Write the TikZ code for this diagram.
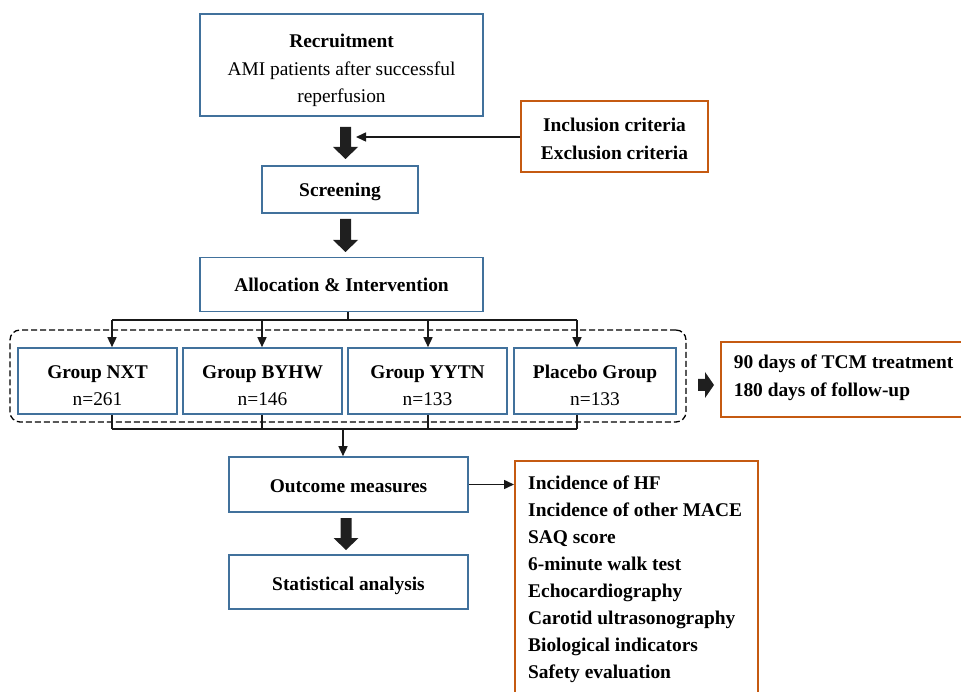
\documentclass[tikz,border=0pt]{standalone}
\usepackage{fontspec}
\setmainfont{Liberation Serif}
\usetikzlibrary{arrows.meta}
\definecolor{bluebd}{HTML}{41719C}
\definecolor{orangebd}{HTML}{C55A11}
\definecolor{arrowfill}{HTML}{1F1F1F}
\newcommand{\vblock}[3]{\fill[blk] (#1-5.5,#2) -- (#1+5.5,#2) -- (#1+5.5,#3-12) -- (#1+12.5,#3-12) -- (#1,#3) -- (#1-12.5,#3-12) -- (#1-5.5,#3-12) -- cycle;}
\begin{document}
\begin{tikzpicture}[x=1pt,y=-1pt,
  every node/.style={font=\fontsize{19.4}{27.5}\selectfont, inner sep=0pt},
  bbox/.style={draw=bluebd, line width=1.6pt, fill=white, align=center, text depth=0pt},
  obox/.style={draw=orangebd, line width=1.6pt, fill=white, text depth=0pt},
  line/.style={draw=black!90, line width=1.5pt},
  conn/.style={line, -{Triangle[length=10pt,width=9pt]}},
  blk/.style={fill=arrowfill}]
\useasboundingbox (0,0) rectangle (961,692);
\clip (0,0) rectangle (961,692);

% main column
\node[bbox, minimum width=283pt, minimum height=102pt, text height=76pt] (recruit) at (341.5,65)
  {\textbf{Recruitment}\\AMI patients after successful\\reperfusion};
\node[obox, align=center, minimum width=187pt, minimum height=71pt, text height=46pt] (incl) at (614.5,136.5)
  {\textbf{Inclusion criteria}\\\textbf{Exclusion criteria}};
\node[bbox, minimum width=156pt, minimum height=47pt, text height=15pt] (screen) at (340,189.5) {\textbf{Screening}};
\node[bbox, minimum width=283pt, minimum height=54pt, text height=15pt] (alloc) at (341.5,284.5) {\textbf{Allocation \& Intervention}};

% dashed frame and groups
\node[draw, dash pattern=on 6pt off 3pt, line width=1.3pt, rounded corners=10pt,
  minimum width=676pt, minimum height=92pt] (frame) at (348,376) {};
\tikzset{gbox/.style={bbox, minimum height=66pt, text height=49pt, font=\fontsize{19.4}{27}\selectfont}}
\node[gbox, minimum width=159pt] (g1) at (97.5,381) {\textbf{Group NXT}\\n=261};
\node[gbox, minimum width=159pt] (g2) at (262.5,381) {\textbf{Group BYHW}\\n=146};
\node[gbox, minimum width=159pt] (g3) at (427.5,381) {\textbf{Group YYTN}\\n=133};
\node[gbox, minimum width=162pt] (g4) at (595,381) {\textbf{Placebo Group}\\n=133};

\node[obox, anchor=west, minimum height=75pt, text height=14pt, text depth=35pt, text width=262pt, inner xsep=13pt, align=flush left,
  font=\fontsize{19.4}{27.7}\selectfont] (tcm) at (720,379.5)
  {\textbf{90 days of TCM treatment}\\\textbf{180 days of follow-up}};

\node[bbox, minimum width=239pt, minimum height=55pt, text height=15pt] (outcome) at (348.5,484.5) {\textbf{Outcome measures}};
\node[bbox, minimum width=239pt, minimum height=54pt, text height=16pt] (stat) at (348.5,582) {\textbf{Statistical analysis}};

\node[obox, anchor=north west, minimum width=243pt, minimum height=260pt] (list) at (514,460) {};
\node[anchor=north west, align=left, font=\bfseries\fontsize{19.4}{27}\selectfont] (listtxt) at (528,475.5)
  {Incidence of HF\\Incidence of other MACE\\SAQ score\\6-minute walk test\\Echocardiography\\Carotid ultrasonography\\Biological indicators\\Safety evaluation};

% block arrows
\vblock{345.5}{127}{159}
\vblock{345.5}{219}{252}
\vblock{346}{518}{550}
\fill[blk] (698,379) -- (705,379) -- (705,372) -- (714,385) -- (705,398) -- (705,391) -- (698,391) -- cycle;

% inclusion connector
\coordinate (inclend) at (356,137);
\draw[conn] (incl.west |- inclend) -- (inclend);

% allocation to groups
\coordinate (s0) at (348,320);
\coordinate (a1) at (112,320);
\coordinate (a2) at (262,320);
\coordinate (a3) at (428,320);
\coordinate (a4) at (577,320);
\draw[line] (alloc.south -| s0) -- (s0);
\draw[line] (a1) -- (a4);
\draw[conn] (a1) -- (a1 |- g1.north);
\draw[conn] (a2) -- (a2 |- g2.north);
\draw[conn] (a3) -- (a3 |- g3.north);
\draw[conn] (a4) -- (a4 |- g4.north);

% groups to outcome
\coordinate (b1) at (112,429);
\coordinate (b2) at (262,429);
\coordinate (b3) at (428,429);
\coordinate (b4) at (577,429);
\coordinate (bm) at (343,429);
\draw[line] (b1 |- g1.south) -- (b1);
\draw[line] (b2 |- g2.south) -- (b2);
\draw[line] (b3 |- g3.south) -- (b3);
\draw[line] (b4 |- g4.south) -- (b4);
\draw[line] (b1) -- (b4);
\draw[conn] (bm) -- (bm |- outcome.north);

% outcome to list
\coordinate (lend) at (outcome.east -| list.west);
\draw[conn] (outcome.east) -- (lend);
\end{tikzpicture}
\end{document}
